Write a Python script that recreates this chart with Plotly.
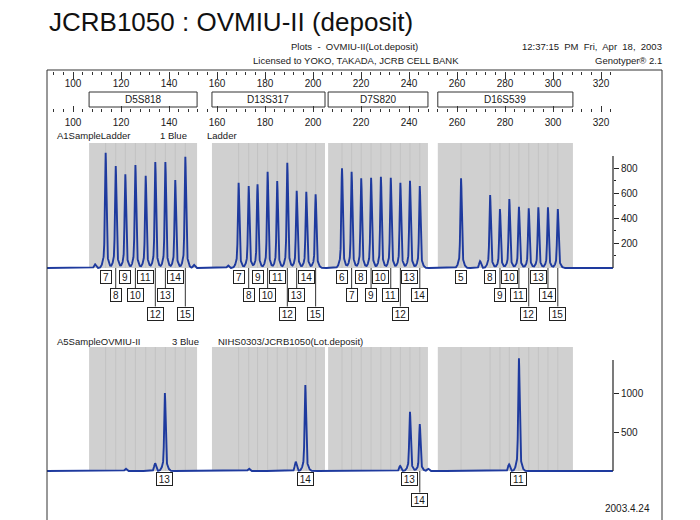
import numpy as np
import plotly.graph_objects as go

# ---------------- data ----------------
marker_names = ["D5S818", "D13S317", "D7S820", "D16S539"]
bin_start = [106.7, 157.9, 206.3, 252.0]
bin_end = [151.7, 205.0, 247.9, 308.3]

ruler_ticks = [100, 120, 140, 160, 180, 200, 220, 240, 260, 280, 300, 320]

# allelic ladder (panel A1)
ladder_allele = ["7", "8", "9", "10", "11", "12", "13", "14", "15",
                 "7", "8", "9", "10", "11", "12", "13", "14", "15",
                 "6", "7", "8", "9", "10", "11", "12", "13", "14",
                 "5", "8", "9", "10", "11", "12", "13", "14", "15"]
ladder_bp = [113.6, 117.8, 121.8, 126.0, 130.3, 134.3, 138.5, 142.6, 146.8,
             169.0, 173.2, 176.9, 181.1, 185.1, 189.3, 193.2, 197.2, 201.1,
             212.1, 216.1, 220.1, 224.2, 228.3, 232.4, 236.4, 240.4, 244.5,
             261.7, 273.8, 277.9, 281.8, 285.8, 289.9, 293.9, 297.9, 302.0]
ladder_height = [922, 816, 750, 824, 738, 848, 848, 704, 890,
                 682, 656, 670, 770, 696, 842, 618, 610, 590,
                 798, 770, 718, 722, 730, 722, 682, 698, 656,
                 718, 584, 472, 552, 490, 478, 486, 486, 472]
ladder_row = [1, 2, 1, 2, 1, 3, 2, 1, 3,
              1, 2, 1, 2, 1, 3, 2, 1, 3,
              1, 2, 1, 2, 1, 2, 3, 1, 2,
              1, 1, 2, 1, 2, 3, 1, 2, 3]
ladder_minor_bp = [109.2, 150.4, 164.6, 269.6]
ladder_minor_height = [30, 25, 20, 55]

# sample OVMIU-II (panel A5)
sample_allele = ["13", "14", "13", "14", "11"]
sample_bp = [138.3, 196.8, 240.4, 244.5, 285.8]
sample_height = [1000, 1103, 760, 603, 1445]
sample_row = [1, 1, 1, 2, 1]
sample_minor_bp = [122.0, 134.2, 173.3, 192.8, 236.3, 248.0, 281.7]
sample_minor_height = [30, 100, 30, 120, 65, 30, 86]

top_yticks = [200, 400, 600, 800]
bot_yticks = [500, 1000]

# ---------------- geometry helpers (reference pixel -> axis/paper) ----------------
W, H = 700, 520
OFF = 8  # page body margin of the browser
X0_PX, PX_PER_BP = 73.0, 2.4
def bp_at(p):
    return 100 + (p - X0_PX) / PX_PER_BP
def py(p):
    return 1 - (p - OFF) / H
def px(p):
    return (p - OFF) / W

TOP_BASE, TOP_UPP = 268.0, 8.0          # top panel: pixel of 0, units per pixel
BOT_BASE, BOT_UPP = 471.0, 500 / 39.0   # bottom panel

BLUE = "#1e3a9e"
TXT = "#1a1a1a"
FONT = "Liberation Sans, Arial, sans-serif"

def trace_y(xg, bps, hs, mbps, mhs):
    y = np.zeros_like(xg)
    for b, h in zip(bps, hs):
        d = xg - b
        y += h * (0.86 * np.exp(-d**2 / (2 * 0.28**2)) + 0.14 * np.exp(-d**2 / (2 * 0.9**2)))
    for b, h in zip(mbps, mhs):
        d = xg - b
        y += h * np.exp(-d**2 / (2 * 0.4**2))
    return y

xg = np.arange(bp_at(47), bp_at(613), 0.04)
y_top = trace_y(xg, ladder_bp, ladder_height, ladder_minor_bp, ladder_minor_height)
y_bot = trace_y(xg, sample_bp, sample_height, sample_minor_bp, sample_minor_height)

fig = go.Figure()
fig.add_trace(go.Scatter(x=xg, y=y_top, mode="lines", line=dict(color=BLUE, width=1.9),
                         xaxis="x", yaxis="y", hoverinfo="skip", showlegend=False))
fig.add_trace(go.Scatter(x=xg, y=y_bot, mode="lines", line=dict(color=BLUE, width=1.9),
                         xaxis="x", yaxis="y2", hoverinfo="skip", showlegend=False))

shapes = []
annotations = []

TOP_BIN = (TOP_BASE - 143) * TOP_UPP
BOT_BIN = (BOT_BASE - 347) * BOT_UPP
# grey bins
for s, e in zip(bin_start, bin_end):
    shapes.append(dict(type="rect", xref="x", yref="y", x0=s, x1=e, y0=0, y1=TOP_BIN,
                       fillcolor="#d0d0d0", line=dict(width=0), layer="below"))
    shapes.append(dict(type="rect", xref="x", yref="y2", x0=s, x1=e, y0=0, y1=BOT_BIN,
                       fillcolor="#d0d0d0", line=dict(width=0), layer="below"))
# faint streaks inside bins
for b in ladder_bp:
    for yr, top in (("y", TOP_BIN), ("y2", BOT_BIN)):
        shapes.append(dict(type="line", xref="x", yref=yr, x0=b, x1=b, y0=0, y1=top,
                           line=dict(color="rgba(150,150,150,0.22)", width=1), layer="below"))

# marker boxes on ruler
for name, s, e in zip(marker_names, bin_start, bin_end):
    shapes.append(dict(type="rect", xref="x", yref="paper", x0=s, x1=e, y0=py(107), y1=py(92),
                       line=dict(color="#333", width=1), fillcolor="rgba(0,0,0,0)"))
    annotations.append(dict(x=(s + e) / 2, y=py(99.5), xref="x", yref="paper", text=name,
                            showarrow=False, xanchor="center", yanchor="middle",
                            font=dict(size=10, color=TXT, family=FONT)))

# frame
shapes += [
    dict(type="line", xref="paper", yref="paper", x0=px(47), x1=px(662), y0=py(70), y1=py(70), line=dict(color="#333", width=1)),
    dict(type="line", xref="paper", yref="paper", x0=px(47), x1=px(47), y0=py(70), y1=py(540), line=dict(color="#333", width=1)),
    dict(type="line", xref="paper", yref="paper", x0=px(662), x1=px(662), y0=py(70), y1=py(540), line=dict(color="#333", width=1)),
]
# y spines
shapes.append(dict(type="line", xref="x", yref="y", x0=bp_at(613), x1=bp_at(613), y0=0, y1=(TOP_BASE - 156) * TOP_UPP,
                   line=dict(color="#222", width=1.2)))
shapes.append(dict(type="line", xref="x", yref="y2", x0=bp_at(613), x1=bp_at(613), y0=0, y1=(BOT_BASE - 360) * BOT_UPP,
                   line=dict(color="#222", width=1.2)))

# allele label boxes
def add_label(b, lab, row, base_px, rows_px):
    cy = rows_px[row - 1]
    w = 8 if len(lab) == 1 else 13
    annotations.append(dict(x=b, y=py(cy), xref="x", yref="paper", text=lab, showarrow=False,
                            xanchor="center", yanchor="middle",
                            font=dict(size=10, color=TXT, family=FONT), bgcolor="white",
                            bordercolor="#222", borderwidth=1, borderpad=1, width=w, height=10))
    if row > 1:
        shapes.append(dict(type="line", xref="x", yref="paper", x0=b, x1=b, y0=py(base_px), y1=py(cy - 7),
                           line=dict(color="#333", width=1)))

for b, lab, r in zip(ladder_bp, ladder_allele, ladder_row):
    add_label(b, lab, r, TOP_BASE, [276.5, 295.0, 313.5])
for b, lab, r in zip(sample_bp, sample_allele, sample_row):
    add_label(b, lab, r, BOT_BASE, [479.0, 499.5])

# texts
def txt(x, y, s, size=10, anchor="left", color=TXT):
    annotations.append(dict(x=px(x), y=py(y), xref="paper", yref="paper", text=s, showarrow=False,
                            xanchor=anchor, yanchor="middle", font=dict(size=size, color=color, family=FONT)))

txt(47, 22, "JCRB1050 : OVMIU-II (deposit)", size=26, color="#111")
txt(354, 47, "Plots  -  OVMIU-II(Lot.deposit)", size=9.5, anchor="center")
txt(356, 61, "Licensed to YOKO, TAKADA, JCRB CELL BANK", size=9.5, anchor="center")
txt(664, 47, "12:37:15  PM  Fri,  Apr  18,  2003", size=9.5, anchor="right")
txt(664, 61, "Genotyper® 2.1", size=9.5, anchor="right")
txt(55, 135, "A1SampleLadder", size=9.5)
txt(158, 135, "1 Blue", size=9.5)
txt(205, 135, "Ladder", size=9.5)
txt(55, 341, "A5SampleOVMIU-II", size=9.5)
txt(170, 341, "3 Blue", size=9.5)
txt(216, 341, "NIHS0303/JCRB1050(Lot.deposit)", size=9.5)
txt(652, 508, "2003.4.24", size=10, anchor="right")

minor_vals = [v for v in range(92, 328, 4) if v % 20 != 0]
xrange_ = [bp_at(OFF), bp_at(W + OFF)]
top_range = [(TOP_BASE - H - OFF) * TOP_UPP, (TOP_BASE - OFF) * TOP_UPP]
bot_range = [(BOT_BASE - H - OFF) * BOT_UPP, (BOT_BASE - OFF) * BOT_UPP]

fig.update_layout(
    width=W, height=H, autosize=False, margin=dict(l=0, r=0, t=0, b=0),
    paper_bgcolor="white", plot_bgcolor="white", showlegend=False,
    font=dict(family=FONT, size=10, color=TXT),
    xaxis=dict(domain=[0, 1], range=xrange_, side="top", anchor="free", position=py(70.5),
               tickmode="array", tickvals=ruler_ticks, ticks="inside", ticklen=7, tickcolor="#333",
               ticklabelposition="inside", tickfont=dict(size=10, color=TXT),
               minor=dict(tickmode="array", tickvals=minor_vals, ticks="inside", ticklen=3, tickcolor="#333"),
               showgrid=False, zeroline=False, showline=False, fixedrange=True),
    xaxis2=dict(overlaying="x", matches="x", range=xrange_, side="bottom", anchor="free", position=py(112),
                tickmode="array", tickvals=ruler_ticks, ticks="inside", ticklen=6, tickcolor="#333",
                tickfont=dict(size=10, color=TXT), ticklabelstandoff=3,
                minor=dict(tickmode="array", tickvals=minor_vals, ticks="inside", ticklen=3, tickcolor="#333"),
                showgrid=False, zeroline=False, showline=False),
    yaxis=dict(domain=[0, 1], range=top_range, anchor="free", position=px(613), side="right",
               tickmode="array", tickvals=top_yticks, ticks="outside", ticklen=5, tickcolor="#222",
               tickfont=dict(size=10, color=TXT),
               minor=dict(tickmode="array", tickvals=[100, 300, 500, 700], ticks="outside", ticklen=2, tickcolor="#222"),
               showgrid=False, zeroline=False, showline=False),
    yaxis2=dict(domain=[0, 1], range=bot_range, overlaying="y", anchor="free", position=px(613), side="right",
                tickmode="array", tickvals=bot_yticks, ticks="outside", ticklen=5, tickcolor="#222",
                tickfont=dict(size=10, color=TXT),
                showgrid=False, zeroline=False, showline=False),
    shapes=shapes, annotations=annotations,
)
# dummy invisible trace so the lower ruler axis is drawn
fig.add_trace(go.Scatter(x=[bp_at(100)], y=[0], xaxis="x2", yaxis="y", mode="markers",
                         marker=dict(opacity=0), hoverinfo="skip", showlegend=False))

fig.write_html("out.html")
